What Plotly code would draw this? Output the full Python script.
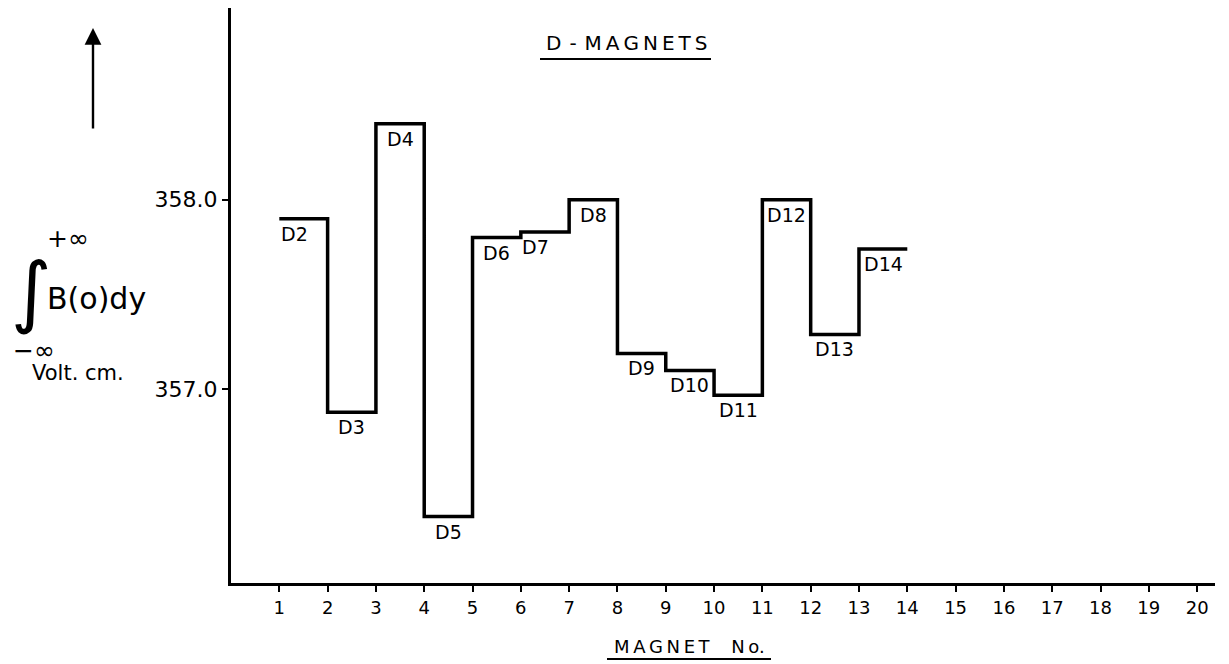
import plotly.graph_objects as go

# ---- data ----
magnets = ["D2", "D3", "D4", "D5", "D6", "D7", "D8", "D9", "D10", "D11", "D12", "D13", "D14"]
magnet_no = [2, 3, 4, 5, 6, 7, 8, 9, 10, 11, 12, 13, 14]
field_integral = [357.90, 356.88, 358.40, 356.33, 357.80, 357.83, 358.00,
                  357.19, 357.10, 356.97, 358.00, 357.29, 357.74]
x_ticks = list(range(1, 21))
y_ticks = [357.0, 358.0]
y_tick_text = ["357.0", "358.0"]

FONT = "DejaVu Sans"
OFF = 8                      # page body margin
W, H = 1229 - OFF, 664 - OFF
# plot area in page pixels: left 231, right 1215, top 8, bottom 583
L, R, T, B = 231 - OFF, 1229 - 1215, 8 - OFF, 664 - 583
PW, PH = W - L - R, H - T - B


def px(x):
    return (x - OFF - L) / PW


def py(y):
    return (H - B - (y - OFF)) / PH


fig = go.Figure()

# step trace: magnet n occupies the interval [n-1, n]
step_x = [n - 1 for n in magnet_no] + [magnet_no[-1]]
step_y = field_integral + [field_integral[-1]]
fig.add_trace(go.Scatter(
    x=step_x, y=step_y, mode="lines",
    line=dict(shape="hv", color="black", width=3.5),
    hoverinfo="skip", showlegend=False,
))

label_xshift = {"D2": -9, "D7": -9}
annotations = []
for name, n, v in zip(magnets, magnet_no, field_integral):
    annotations.append(dict(
        x=n - 0.5, y=v, xref="x", yref="y", text=name, showarrow=False,
        xanchor="center", yanchor="top", yshift=-2,
        xshift=label_xshift.get(name, 0),
        font=dict(family=FONT, size=19, color="black"),
    ))

# title
annotations.append(dict(
    x=px(627), y=py(43), xref="paper", yref="paper",
    text="D\u2009\u2009-\u2009\u2009M\u2009A\u2009G\u2009N\u2009E\u2009T\u2009S",
    showarrow=False, xanchor="center", yanchor="middle",
    font=dict(family=FONT, size=20, color="black"),
))
# x-axis title
annotations.append(dict(
    x=px(689), y=py(646), xref="paper", yref="paper",
    text="M\u2009A\u2009G\u2009N\u2009E\u2009T\u2003\u2009N\u2009o.",
    showarrow=False, xanchor="center", yanchor="middle",
    font=dict(family=FONT, size=18, color="black"),
))
# y-axis title: integral expression
annotations += [
    dict(x=px(31), y=py(291), xref="paper", yref="paper", text="∫", showarrow=False,
         xanchor="center", yanchor="middle", font=dict(family=FONT, size=78, color="black")),
    dict(x=px(68), y=py(238), xref="paper", yref="paper", text="+∞", showarrow=False,
         xanchor="center", yanchor="middle", font=dict(family=FONT, size=25, color="black")),
    dict(x=px(34), y=py(350), xref="paper", yref="paper", text="−∞", showarrow=False,
         xanchor="center", yanchor="middle", font=dict(family=FONT, size=25, color="black")),
    dict(x=px(96), y=py(298), xref="paper", yref="paper", text="B(o)dy", showarrow=False,
         xanchor="center", yanchor="middle", font=dict(family=FONT, size=30, color="black")),
    dict(x=px(78), y=py(373), xref="paper", yref="paper", text="Volt. cm.", showarrow=False,
         xanchor="center", yanchor="middle", font=dict(family=FONT, size=21, color="black")),
]
# upward arrow
annotations.append(dict(
    x=px(93), y=py(28), xref="paper", yref="paper", ax=0, ay=102,
    text="", showarrow=True, arrowhead=2, arrowsize=1.4, arrowwidth=2.4,
    arrowcolor="black",
))

shapes = [
    # underline of title
    dict(type="line", xref="paper", yref="paper", x0=px(540), x1=px(711),
         y0=py(59), y1=py(59), line=dict(color="black", width=2)),
    # underline of x title
    dict(type="line", xref="paper", yref="paper", x0=px(607), x1=px(771),
         y0=py(659), y1=py(659), line=dict(color="black", width=2)),
]

fig.update_layout(
    width=W, height=H,
    margin=dict(l=L, r=R, t=T, b=B, pad=0),
    paper_bgcolor="white", plot_bgcolor="white",
    annotations=annotations, shapes=shapes,
    showlegend=False,
    xaxis=dict(
        range=[0, 20.37], tickmode="array", tickvals=x_ticks,
        ticktext=[str(t) for t in x_ticks],
        showline=True, linecolor="black", linewidth=3,
        ticks="outside", ticklen=6, tickwidth=1.5, tickcolor="black",
        showgrid=False, zeroline=False,
        tickfont=dict(family=FONT, size=18, color="black"),
    ),
    yaxis=dict(
        range=[355.98, 359.01], tickmode="array", tickvals=y_ticks,
        ticktext=y_tick_text,
        showline=True, linecolor="black", linewidth=3,
        ticks="outside", ticklen=6, tickwidth=1.5, tickcolor="black",
        showgrid=False, zeroline=False,
        tickfont=dict(family=FONT, size=22, color="black"),
    ),
)

fig.write_html("out.html")
